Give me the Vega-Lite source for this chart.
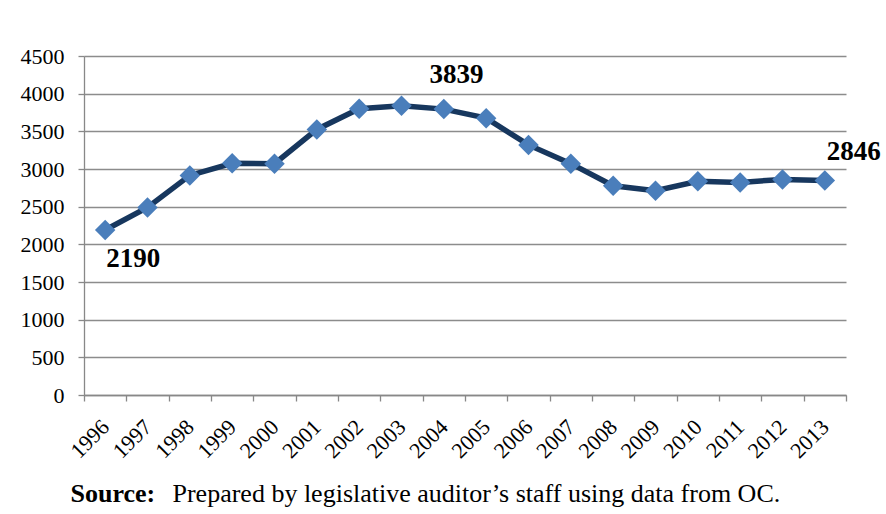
{
  "$schema": "https://vega.github.io/schema/vega-lite/v6.json",
  "width": 762,
  "height": 339,
  "autosize": {"type": "none"},
  "padding": {"left": 84, "top": 56, "right": 40, "bottom": 119},
  "background": "white",
  "config": {
    "view": {"stroke": null},
    "font": "Liberation Serif",
    "axis": {"labelFont": "Liberation Serif", "titleFont": "Liberation Serif", "labelFontSize": 22, "labelColor": "black"}
  },
  "data": {
    "values": [
      {"year": "1996", "value": 2190},
      {"year": "1997", "value": 2490},
      {"year": "1998", "value": 2915},
      {"year": "1999", "value": 3075},
      {"year": "2000", "value": 3070},
      {"year": "2001", "value": 3525},
      {"year": "2002", "value": 3800},
      {"year": "2003", "value": 3839},
      {"year": "2004", "value": 3795},
      {"year": "2005", "value": 3675},
      {"year": "2006", "value": 3320},
      {"year": "2007", "value": 3071},
      {"year": "2008", "value": 2778},
      {"year": "2009", "value": 2712},
      {"year": "2010", "value": 2836},
      {"year": "2011", "value": 2822},
      {"year": "2012", "value": 2862},
      {"year": "2013", "value": 2846}
    ]
  },
  "encoding": {
    "x": {
      "field": "year",
      "type": "ordinal",
      "scale": {"paddingInner": 0, "paddingOuter": 0},
      "axis": {
        "title": "Prepared by legislative auditor’s staff using data from OC.",
        "titleFont": "Liberation Serif",
        "titleFontSize": 26,
        "titleFontWeight": "normal",
        "titleColor": "black",
        "titleX": 88,
        "titleY": 98,
        "titleAlign": "left",
        "titleAnchor": null,
        "titleBaseline": "middle",
        "labelAngle": -45,
        "labelAlign": "right",
        "labelBaseline": "middle",
        "labelFont": "Liberation Serif",
        "labelFontSize": 22,
        "labelColor": "black",
        "labelPadding": 22,
        "tickBand": "extent",
        "tickSize": 6,
        "tickColor": "#888888",
        "domainColor": "#888888",
        "domainWidth": 1.3,
        "tickWidth": 1.3,
        "grid": false
      }
    },
    "y": {
      "field": "value",
      "type": "quantitative",
      "scale": {"domain": [0, 4500], "nice": false},
      "axis": {
        "values": [0, 500, 1000, 1500, 2000, 2500, 3000, 3500, 4000, 4500],
        "format": "d",
        "title": "Source:",
        "titleFont": "Liberation Serif",
        "titleFontSize": 26,
        "titleFontWeight": "bold",
        "titleColor": "black",
        "titleAngle": 0,
        "titleX": -14,
        "titleY": 437,
        "titleAlign": "left",
        "titleAnchor": null,
        "titleBaseline": "middle",
        "labelFont": "Liberation Serif",
        "labelFontSize": 22,
        "labelColor": "black",
        "labelPadding": 14,
        "labelBaseline": "middle",
        "tickSize": 6,
        "tickColor": "#888888",
        "tickWidth": 1.3,
        "domainColor": "#888888",
        "domainWidth": 1.3,
        "grid": true,
        "gridColor": "#8c8c8c",
        "gridWidth": 1.3
      }
    }
  },
  "layer": [
    {
      "mark": {"type": "line", "color": "#17375E", "strokeWidth": 5.5}
    },
    {
      "mark": {"type": "point", "shape": "diamond", "filled": true, "size": 420, "color": "#4A7EBB", "opacity": 1}
    },
    {
      "transform": [{"filter": "datum.year == '1996'"}],
      "mark": {"type": "text", "font": "Liberation Serif", "fontSize": 27, "fontWeight": "bold", "align": "left", "baseline": "middle", "dx": 1, "dy": 29, "color": "black"},
      "encoding": {"text": {"field": "value", "type": "quantitative"}}
    },
    {
      "transform": [{"filter": "datum.year == '2003'"}],
      "mark": {"type": "text", "font": "Liberation Serif", "fontSize": 27, "fontWeight": "bold", "align": "left", "baseline": "middle", "dx": 28, "dy": -31, "color": "black"},
      "encoding": {"text": {"field": "value", "type": "quantitative"}}
    },
    {
      "transform": [{"filter": "datum.year == '2013'"}],
      "mark": {"type": "text", "font": "Liberation Serif", "fontSize": 27, "fontWeight": "bold", "align": "left", "baseline": "middle", "dx": 2, "dy": -29, "color": "black"},
      "encoding": {"text": {"field": "value", "type": "quantitative"}}
    }
  ]
}
